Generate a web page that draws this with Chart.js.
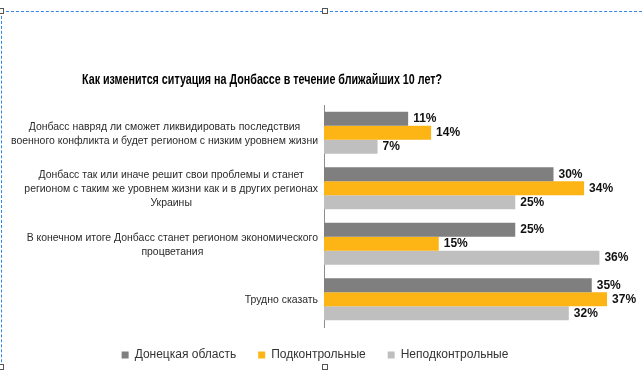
<!DOCTYPE html>
<html>
<head>
<meta charset="utf-8">
<script src="https://cdn.jsdelivr.net/npm/chart.js@4"></script>
<style>
  html, body { margin: 0; padding: 0; background: #fff; }
  #wrap { position: relative; width: 642px; height: 370px; overflow: hidden; }
  #frame { position: absolute; left: 1px; top: 11px; width: 660px; height: 400px;
           border-top: 1px dashed #2f86e8; border-left: 1px dashed #2f86e8; }
  .h { position: absolute; width: 4px; height: 4px; border: 1px solid #555; background: #fff; }
</style>
</head>
<body>
<div id="wrap">
  <canvas id="chart" width="642" height="370"></canvas>
  <div id="frame"></div>
  <div class="h" style="left:-2px;top:8px"></div>
  <div class="h" style="left:322px;top:8px"></div>
  <div class="h" style="left:-2px;top:364px"></div>
  <div class="h" style="left:322px;top:364px"></div>
</div>
<script>
const ctx = document.getElementById('chart').getContext('2d');

const titleText = 'Как изменится ситуация на Донбассе в течение ближайших 10 лет?';

// categories, one array of lines per row
const categories = [
  ['Донбасс навряд ли сможет ликвидировать последствия', 'военного конфликта и будет регионом с низким уровнем жизни'],
  ['Донбасс так или иначе решит свои проблемы и станет', 'регионом с таким же уровнем жизни как и в других регионах', 'Украины'],
  ['В конечном итоге Донбасс станет регионом экономического', 'процветания'],
  ['Трудно сказать']
];

const seriesNames = ['Донецкая область', 'Подконтрольные', 'Неподконтрольные'];
const donetsk = [11, 30, 25, 35];
const controlled = [14, 34, 15, 37];
const uncontrolled = [7, 25, 36, 32];

const colors = ['#7f7f7f', '#fdb515', '#bfbfbf'];

// narrow text: squeeze horizontally so it looks like the condensed office font
function narrowText(c, text, x, y, squeeze) {
  c.save();
  c.translate(x, y);
  c.scale(squeeze, 1);
  c.fillText(text, 0, 0);
  c.restore();
}

const textPlugin = {
  id: 'texts',
  afterDatasetsDraw(chart) {
    const c = chart.ctx;
    const yScale = chart.scales.y;
    c.save();

    // title
    c.fillStyle = '#000';
    c.font = 'bold 14px "Liberation Sans", sans-serif';
    c.textAlign = 'center';
    c.textBaseline = 'middle';
    const titleSqueeze = 360 / c.measureText(titleText).width;
    narrowText(c, titleText, 262, 80, titleSqueeze);

    // row labels: lines centred on each other, block right-aligned to axis
    c.font = '11px "Liberation Sans", sans-serif';
    c.fillStyle = '#2a2a2a';
    const squeeze = 307 / c.measureText(categories[0][1]).width;
    const right = chart.chartArea.left - 6;
    const lineH = 14;
    categories.forEach((lines, i) => {
      const cy = yScale.getPixelForValue(i) + 1;
      const w = Math.max(...lines.map(l => c.measureText(l).width)) * squeeze;
      const cx = right - w / 2;
      lines.forEach((l, j) => {
        narrowText(c, l, cx, cy + (j - (lines.length - 1) / 2) * lineH, squeeze);
      });
    });

    // value labels
    c.font = 'bold 12px "Liberation Sans", sans-serif';
    c.fillStyle = '#111';
    c.textAlign = 'left';
    chart.data.datasets.forEach((ds, di) => {
      chart.getDatasetMeta(di).data.forEach((bar, i) => {
        c.fillText(ds.data[i] + '%', bar.x + 5, bar.y);
      });
    });
    c.restore();
  }
};

new Chart(ctx, {
  type: 'bar',
  data: {
    labels: categories.map(l => l.join(' ')),
    datasets: [
      { label: seriesNames[0], data: donetsk, backgroundColor: colors[0] },
      { label: seriesNames[1], data: controlled, backgroundColor: colors[1] },
      { label: seriesNames[2], data: uncontrolled, backgroundColor: colors[2] }
    ]
  },
  options: {
    indexAxis: 'y',
    responsive: false,
    animation: false,
    categoryPercentage: 0.76,
    barPercentage: 1,
    layout: { padding: { top: 105, right: 12, left: 0, bottom: 0 } },
    scales: {
      x: { display: false, min: 0, max: 40 },
      y: {
        grid: { display: false },
        border: { display: true, color: '#8c8c8c' },
        ticks: { display: false },
        afterFit(scale) { scale.width = 324; }
      }
    },
    plugins: {
      title: { display: false },
      tooltip: { enabled: false },
      legend: {
        position: 'bottom',
        maxHeight: 43,
        labels: {
          boxWidth: 7,
          boxHeight: 7,
          padding: 22,
          color: '#333',
          font: { size: 12, family: '"Liberation Sans", sans-serif' }
        }
      }
    }
  },
  plugins: [textPlugin]
});
</script>
</body>
</html>
